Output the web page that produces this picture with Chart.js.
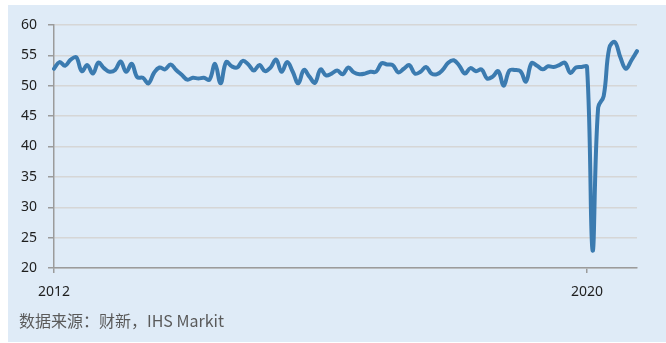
<!DOCTYPE html>
<html lang="zh">
<head>
<meta charset="utf-8">
<title>财新 PMI</title>
<script src="https://cdn.jsdelivr.net/npm/chart.js@4"></script>
<style>
  html, body { margin: 0; padding: 0; background: #fff; }
  body { width: 666px; height: 343px; position: relative; overflow: hidden; }
  .panel { position: absolute; left: 8px; top: 5px; width: 658px; height: 337px; background: #dfebf7; }
  #wrap { position: absolute; left: 0; top: 0; width: 666px; height: 343px; }
  .source {
    position: absolute; left: 19px; top: 309px;
    font: 16px "Noto Sans CJK SC", "Noto Sans", sans-serif;
    line-height: 22px;
    color: #5a5a5a; white-space: nowrap;
  }
</style>
</head>
<body>
<div class="panel"></div>
<div id="wrap"><canvas id="pmi"></canvas></div>
<div class="source">数据来源：财新，IHS Markit</div>
<script>
// 月度读数，2012年1月起
const pmi2012 = [52.8, 53.9, 53.3, 54.3, 54.7, 52.4, 53.4, 52.0, 53.8, 52.9, 52.3, 52.6];
const pmi2013 = [54.0, 52.3, 53.6, 51.4, 51.3, 50.4, 52.1, 53.0, 52.7, 53.5, 52.6, 51.8];
const pmi2014 = [51.0, 51.3, 51.2, 51.3, 51.0, 53.6, 50.4, 53.9, 53.2, 53.0, 54.1, 53.5];
const pmi2015 = [52.5, 53.4, 52.4, 53.0, 54.3, 52.3, 53.9, 52.3, 50.4, 52.6, 51.5, 50.5];
const pmi2016 = [52.7, 51.7, 52.0, 52.5, 51.9, 53.0, 52.2, 51.9, 52.0, 52.3, 52.3, 53.7];
const pmi2017 = [53.5, 53.4, 52.2, 52.8, 53.4, 52.0, 52.3, 53.1, 52.0, 51.9, 52.6, 53.8];
const pmi2018 = [54.2, 53.3, 52.0, 52.9, 52.4, 52.7, 51.2, 51.5, 52.4, 50.0, 52.5, 52.6];
const pmi2019 = [52.4, 50.7, 53.7, 53.3, 52.7, 53.2, 53.1, 53.4, 53.8, 52.1, 53.0, 53.1];
const pmi2020 = [53.1, 22.9, 46.4, 48.3, 56.2, 57.2, 54.7, 52.8, 54.2, 55.7];

const yearlySeries = [pmi2012, pmi2013, pmi2014, pmi2015, pmi2016, pmi2017, pmi2018, pmi2019, pmi2020];
const startYear = 2012;
const labeledYears = ['2012', '2020'];
const yTicks = [20, 25, 30, 35, 40, 45, 50, 55, 60];

const values = [];
const months = [];
yearlySeries.forEach((arr, k) => {
  arr.forEach((v, m) => {
    values.push(v);
    months.push(`${startYear + k}-${String(m + 1).padStart(2, '0')}`);
  });
});

Chart.defaults.font.family = '"Noto Sans", sans-serif';
Chart.defaults.font.size = 14;
Chart.defaults.color = '#1e1e1e';

const AXIS = '#9b9b9b';

new Chart(document.getElementById('pmi'), {
  type: 'line',
  data: {
    labels: months,
    datasets: [{
      data: values,
      borderColor: '#3b7bb0',
      borderWidth: 4,
      tension: 0.4,
      pointRadius: 0,
      borderCapStyle: 'round',
      borderJoinStyle: 'round',
      fill: false
    }]
  },
  options: {
    responsive: true,
    maintainAspectRatio: false,
    animation: false,
    layout: { padding: { left: 0, top: 25, right: 29, bottom: 0 } },
    plugins: { legend: { display: false }, tooltip: { enabled: false } },
    scales: {
      x: {
        type: 'category',
        offset: false,
        afterBuildTicks: scale => {
          // 只在每个标注年份的一月处保留刻度
          scale.ticks = scale.ticks.filter(t => {
            const lab = months[t.value];
            return lab.endsWith('-01') && labeledYears.includes(lab.slice(0, 4));
          });
        },
        afterFit: scale => { scale.height = 75; },
        grid: { drawOnChartArea: false, drawTicks: true, tickLength: 5, tickColor: AXIS, lineWidth: 1.5 },
        border: { display: true, color: AXIS, width: 1.5 },
        ticks: {
          autoSkip: false,
          maxRotation: 0,
          padding: 11,
          callback: function (value) { return months[value].slice(0, 4); }
        }
      },
      y: {
        min: 20,
        max: 60,
        afterFit: scale => { scale.width = 54; },
        afterBuildTicks: scale => { scale.ticks = yTicks.map(v => ({ value: v })); },
        grid: { color: '#d6d6d6', lineWidth: 1.5, tickColor: AXIS, tickLength: 6 },
        border: { display: true, color: AXIS, width: 1.5 },
        ticks: { padding: 11 }
      }
    }
  }
});
</script>
</body>
</html>
